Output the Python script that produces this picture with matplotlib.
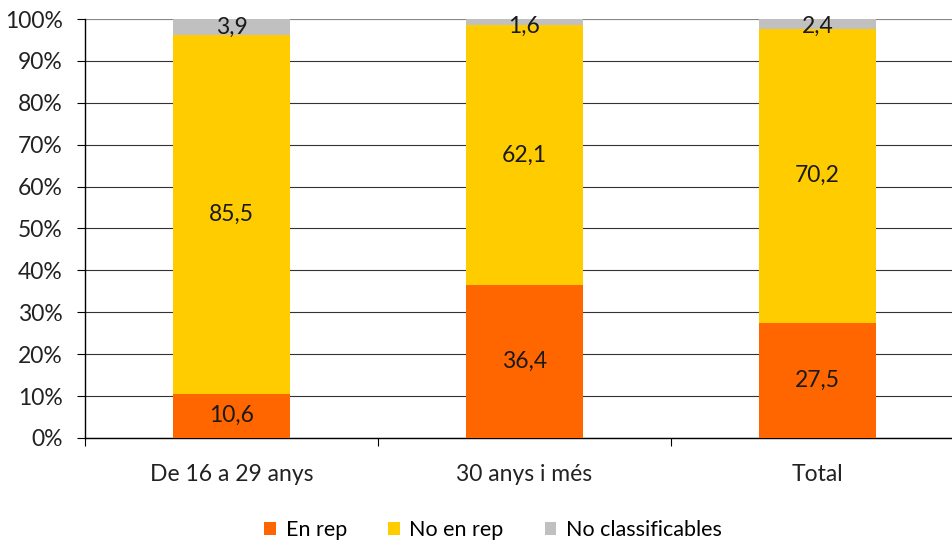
import matplotlib
matplotlib.use("Agg")
from matplotlib import pyplot as plt
import numpy as np

plt.rcParams['font.family'] = ['Lato', 'DejaVu Sans']

# ===================== 数据 =====================
categories = ["De 16 a 29 anys", "30 anys i més", "Total"]
en_rep = [10.6, 36.4, 27.5]
no_en_rep = [85.5, 62.1, 70.2]
no_classif = [3.9, 1.6, 2.4]
series_names = ["En rep", "No en rep", "No classificables"]
colors = ["#FF6600", "#FFCC00", "#C0C0C0"]
yticks = np.arange(0, 101, 10)

FS = 16.5

fig = plt.figure(figsize=(9.52, 5.43), dpi=100)
ax = fig.add_axes([85 / 952, 1 - 438 / 543, 879 / 952, (438 - 19) / 543])

x = np.arange(len(categories))
bottom = np.zeros(len(categories))
bars = []
for vals, name, col in zip([en_rep, no_en_rep, no_classif], series_names, colors):
    vals = np.array(vals)
    b = ax.bar(x, vals, width=0.40, bottom=bottom, color=col, label=name, zorder=3)
    bars.append(b)
    for xi, bt, v in zip(x, bottom, vals):
        yc = min(bt + v / 2, 98.3)
        ax.text(xi, yc, f"{v:.1f}".replace(".", ","), ha="center", va="center",
                fontsize=FS, color="#1a1a1a", zorder=4)
    bottom += vals

ax.set_xlim(-0.5, len(categories) - 0.5)
ax.set_ylim(0, 100)
ax.set_yticks(yticks)
ax.set_yticklabels([f"{t}%" for t in yticks], fontsize=FS, color="#222222")
ax.yaxis.grid(True, color="#333333", linewidth=0.8, zorder=0)
ax.set_axisbelow(True)

ax.set_xticks(x)
ax.set_xticklabels(categories, fontsize=FS, color="#222222")
ax.tick_params(axis="x", which="major", length=0, pad=19)
ax.set_xticks(np.arange(-0.5, len(categories)), minor=True)
ax.tick_params(axis="x", which="minor", length=6, width=0.8, direction="out")
ax.tick_params(axis="y", length=6, width=0.8, pad=10)

for s in ["top", "right"]:
    ax.spines[s].set_visible(False)
ax.spines["left"].set_linewidth(1.0)
ax.spines["bottom"].set_linewidth(1.0)
ax.axhline(100, color="#999999", linewidth=1.2, zorder=1)

fig.legend(handles=bars, labels=series_names, loc="center", bbox_to_anchor=(0.518, 1 - 530 / 543),
           ncol=3, frameon=False, fontsize=15.5, handlelength=0.55, handleheight=0.55,
           columnspacing=1.9, handletextpad=0.45)

fig.savefig("out.png", dpi=100)
